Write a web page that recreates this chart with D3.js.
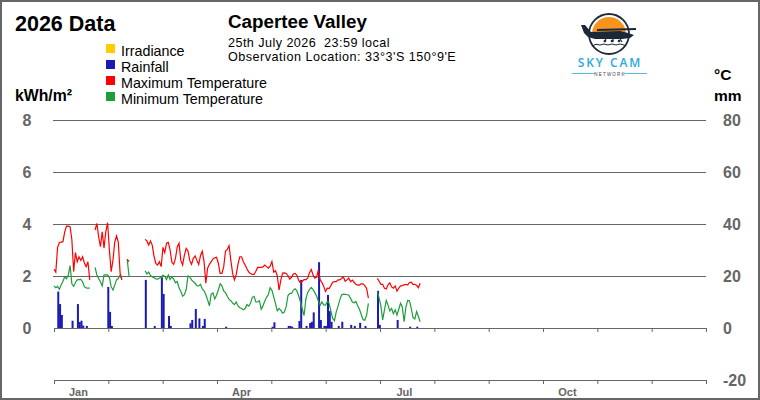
<!DOCTYPE html>
<html>
<head>
<meta charset="utf-8">
<script src="https://cdn.jsdelivr.net/npm/d3@7"></script>
<style>
  html, body { margin: 0; padding: 0; background: #fff; }
  svg { display: block; font-family: "Liberation Sans", Arial, sans-serif; }
</style>
</head>
<body>
<svg id="chart" width="760" height="400"></svg>
<script>
// daily values, index = day of year (0 = 1 Jan 2026), null = no record
const maxTemp = [
  22.6, 21.5, 31, 32.8, 33, 33.2, 37, 39.2, 39.2, 39, 34, 21.7, 29, 25.5, 27.4, 26, 27.4, 25, 23.6, 25.5, 18.5,
  null, null,
  37.7, 40.2, 35, 31.3, 37, 30.7, 37, 40.5, 30, 21.7, 26, 33, 35.4, 33, 21.1, 18.5,
  null, null,
  26.4, 25.5,
  null, null, null, null, null, null, null, null,
  34.1, 33.5, 31.9, 33.5, 31.9, 27.5, 24.8, 24.2, 25.5, 23.6,
  31, 29, 32.6, 32.9, 30, 25.3, 24.5, 26.8, 31.2, 32.6,
  26, 24.2, 28, 30.6, 29.6, 26, 24.5, 26.8, 27.7, 26,
  24.4, 27.8, 29.5, 25.5, 17.2, 23, 24.5, 25.5, 26.6, 27,
  27.2, 24.9, 21, 21, 23.5, 29.6, 30.2, 31.7, 26, 21,
  18.5, 20.5, 24.5, 27.4, 27.4, 25.5, 24.2, 22.8, 21.5, 21,
  20.6, 20.6, 21.8, 23.3, 23.3, 23.3, 23.5, 24.2, 23.6, 23,
  23.8, 25.6, 21.5, 22, 20, 14.6, 18.5, 21.1, 21.2, 21,
  20.1, 18.8, 19.6, 20.8, 21, 20.3, 18.3, 17.4, 18, 18.6,
  18.6, 19.2, 21.2, 22.5, 20.5, 19.2, 19.6, 22.3, 18.5, 17.5,
  16, 14, 15.3, 15.2, 16.3, 17.6, 17.8, 17.8, 18.5, 18.5,
  19.1, 19.6, 18, 18.5, 19.2, 17.8, 18.4, 17.6, 16.8, 16.5,
  16.5, 17, 17, 16.3, 15.2, 11.5,
  null, null, null, null,
  19.1, 18, 16.8, 16.8, 15.3, 15, 16.6, 17.4, 15.8, 15.3,
  16.2, 14.2, 15.3, 16.2, 16.3, 16.6, 16.8, 16.5, 17.5, 17.6,
  16.8, 16.8, 16.4, 15.5, 17.2
];

const minTemp = [
  16.2, 15.5, 16, 14.9, 16.5, 18, 19.7, 19, 20.4, 24, 17, 16, 17.5, 18.5, 18.6, 18.7, 17.8, 15.9, 15.4, 15.3, 15.3,
  null, null,
  23.3, 20.4, 19, 17.8, 16.2, 20.4, 20.4, 20.4, 19.5, 15.9, 14.6, 16.5, 18.5, 19, 20.4, 18.7,
  null, null,
  26.4, 20,
  null, null, null, null, null, null, null, null,
  22, 20.8, 21.5, 20.2, 19.6, 19.4, 18.9, 18.8, 19.1, 19.6,
  20.3, 19.8, 18.6, 20.4, 18.7, 19.7, 18.8, 17.4, 17.9, 15.5,
  14, 12.2, 12.8, 14.8, 20, 19.6, 18.5, 17.8, 17.2, 16.3,
  16.2, 16.8, 15, 14.3, 12.8, 10.8, 8.5, 13, 13.5, 11.2,
  12.6, 14.6, 17, 16.2, 14.3, 13.6, 12.2, 11, 10.5, 9.6,
  9, 10, 8.5, 7.8, 7.5, 7, 7.5, 9, 8.4, 9.5,
  11.8, 12.2, 10, 10, 10.5, 7.2, 8.5, 10.4, 11.8, 12.9,
  15.5, 14.5, 12, 9.5, 6.6, 7.5, 6.8, 5.7, 6.2, 8.3,
  12.5, 13.3, 13.3, 14.6, 15.1, 14.2, 12.3, 10, 7.2, 4.8,
  11.2, 13.6, 14.8, 15.6, 14.8, 13.6, 12.3, 10.3, 8.8, 10,
  8.9, 8.8, 10.1, 9.6, 6.5, 3.7, 2.8, 6.2, 8.3, 10.8,
  12.7, 13, 12.9, 12.8, 12.7, 11.4, 10, 9.7, 10.2, 8.6,
  7.2, 5.2, 3.2, 3, 5, 9.5,
  null, null, null, null,
  14, 11.5, 8.5, 3.1, 7, 10.6, 8.8, 6.6, 7.5, 5.5,
  7, 5, 7.2, 9.5, 8, 2.4, 8, 10.6, 10.5, 7.5,
  4, 3.5, 6.3, 4.4, 2.4
];

const rainDays = [2, 3, 4, 10, 13, 14, 15, 16, 18, 30, 31, 32, 51, 56, 60, 61, 64, 65, 76, 77, 79, 81, 83, 84, 96,
  122, 123, 131, 132, 133, 137, 138, 141, 143, 144, 145, 148, 149, 151, 152, 153, 154, 155, 159, 161, 166, 168, 171, 174,
  181, 182, 192, 199, 203];
const rainMm = [14, 9.2, 5, 2.8, 9.2, 2.3, 2.8, 0.9, 0.8, 15.8, 6.2, 0.8, 18.5, 0.8, 19.5, 13.1, 4.6, 0.8, 1.8, 3.1, 7.3, 3.7, 0.8, 3.5, 0.5,
  0.5, 2.2, 0.8, 0.8, 0.5, 2.7, 18.5, 0.8, 1.9, 2.4, 6, 25.3, 3.1, 0.8, 0.8, 12.7, 6.5, 2.4, 0.8, 2.4, 1.2, 0.8, 2, 0.8,
  14.3, 1.2, 3.1, 0.5, 0.5];

const irradiance = []; // no irradiance recorded this year

const monthLabels = ["Jan", "", "", "Apr", "", "", "Jul", "", "", "Oct", "", ""];
const leftTicks = [0, 2, 4, 6, 8];
const rightTicks = [80, 60, 40, 20, 0, -20];
const legendItems = [
  { label: "Irradiance", color: "#ffcc00" },
  { label: "Rainfall", color: "#1a1ab4" },
  { label: "Maximum Temperature", color: "#ff0000" },
  { label: "Minimum Temperature", color: "#1c9e3a" }
];

const svg = d3.select("#chart");
const gray = "#666";

svg.append("rect").attr("x", 1).attr("y", 1).attr("width", 758).attr("height", 398)
  .attr("fill", "#fff").attr("stroke", "#666").attr("stroke-width", 2);

const xDay = d3.scaleLinear().domain([0, 365]).range([54, 706]);
const xMonth = d3.scaleLinear().domain([0, 12]).range([54, 706]);
const yL = d3.scaleLinear().domain([-2, 8]).range([380, 120]);
const yR = d3.scaleLinear().domain([-20, 80]).range([380, 120]);

// grid
svg.append("g").selectAll("line").data([20, 40, 60, 80]).join("line")
  .attr("x1", 53).attr("x2", 706)
  .attr("y1", (d) => Math.round(yR(d)) + 0.5).attr("y2", (d) => Math.round(yR(d)) + 0.5)
  .attr("stroke", gray).attr("stroke-width", 1);

// zero line and bottom line, both with month ticks
[0, -20].forEach((v) => {
  svg.append("g")
    .attr("transform", `translate(0,${Math.round(yR(v))})`)
    .call(d3.axisBottom(xMonth).tickValues(d3.range(0, 13)).tickSize(4).tickSizeOuter(0).tickFormat(""))
    .call((axis) => axis.selectAll("path,line").attr("stroke", gray));
});

svg.append("g").selectAll("text").data(monthLabels).join("text")
  .attr("x", (d, i) => xMonth(i + 0.45))
  .attr("y", 396)
  .attr("text-anchor", "middle")
  .attr("fill", gray).attr("font-size", 11).attr("font-weight", "bold")
  .text((d) => d);

svg.append("g").selectAll("text").data(leftTicks).join("text")
  .attr("x", 27).attr("y", (d) => yL(d)).attr("dy", "0.36em")
  .attr("text-anchor", "middle")
  .attr("fill", gray).attr("font-size", 16).attr("font-weight", "bold")
  .text((d) => d);

svg.append("g").selectAll("text").data(rightTicks).join("text")
  .attr("x", 723).attr("y", (d) => yR(d)).attr("dy", "0.36em")
  .attr("fill", gray).attr("font-size", 16).attr("font-weight", "bold")
  .text((d) => d);

// rainfall bars
const rain = rainDays.map((d, i) => ({ day: d, mm: rainMm[i] }));
svg.append("g").selectAll("rect").data(rain).join("rect")
  .attr("x", (d) => xDay(d.day) - 0.3)
  .attr("width", 2)
  .attr("y", (d) => yR(d.mm))
  .attr("height", (d) => yR(0) - yR(d.mm))
  .attr("fill", legendItems[1].color);

// temperature lines
const line = d3.line()
  .defined((d) => d != null)
  .x((d, i) => xDay(i))
  .y((d) => yR(d));

svg.append("path").attr("d", line(minTemp))
  .attr("fill", "none").attr("stroke", legendItems[3].color).attr("stroke-width", 1.2);
svg.append("path").attr("d", line(maxTemp))
  .attr("fill", "none").attr("stroke", legendItems[2].color).attr("stroke-width", 1.2);

// irradiance (kWh/m², left axis) - empty series
svg.append("path").attr("d", d3.line().x((d) => xDay(d.day)).y((d) => yL(d.value))(irradiance) || "")
  .attr("fill", "none").attr("stroke", legendItems[0].color).attr("stroke-width", 1.2);

// titles
svg.append("text").attr("x", 15).attr("y", 31).attr("font-size", 21.5).attr("font-weight", "bold").text("2026 Data");
svg.append("text").attr("x", 228).attr("y", 28).attr("font-size", 18.8).attr("font-weight", "bold").text("Capertee Valley");
svg.append("text").attr("x", 228).attr("y", 46.5).attr("font-size", 12.6).attr("letter-spacing", 0.45)
  .attr("xml:space", "preserve").text("25th July 2026  23:59 local");
svg.append("text").attr("x", 228).attr("y", 61).attr("font-size", 12.6).attr("letter-spacing", 0.5)
  .text("Observation Location: 33°3'S 150°9'E");

svg.append("text").attr("x", 15).attr("y", 101).attr("font-size", 15.8).attr("font-weight", "bold").text("kWh/m²");
svg.append("text").attr("x", 714).attr("y", 80).attr("font-size", 15.5).attr("font-weight", "bold").text("°C");
svg.append("text").attr("x", 714).attr("y", 101).attr("font-size", 15.5).attr("font-weight", "bold").text("mm");

// legend
const legend = svg.append("g").selectAll("g").data(legendItems).join("g")
  .attr("transform", (d, i) => `translate(106,${44 + i * 16})`);
legend.append("rect").attr("width", 9).attr("height", 9).attr("fill", (d) => d.color);
legend.append("text").attr("x", 15).attr("y", 12).attr("font-size", 14.3).text((d) => d.label);

// logo
const logo = svg.append("g");
logo.append("circle").attr("cx", 609).attr("cy", 34).attr("r", 20)
  .attr("fill", "#fff").attr("stroke", "#1d2b3b").attr("stroke-width", 1.8);
logo.append("path").attr("d", "M592,34 A17,17 0 0 1 626,34 Z").attr("fill", "#f7941d");
logo.append("path")
  .attr("d", "M581,25 L585,25 L591,32 L620,31 L628,33 L634,35 L630,38 L622,39 L595,39 L588,37 L584,33 Z")
  .attr("fill", "#1b2838");
logo.append("path").attr("d", "M597,29 L636,28 L636,30 L597,31 Z").attr("fill", "#1b2838");
logo.append("path").attr("d", "M606,39 L604,42 M613,39 L613,42 M620,39 L622,42")
  .attr("stroke", "#1b2838").attr("stroke-width", 1.2);
[605, 612, 619].forEach((cx) => logo.append("circle").attr("cx", cx).attr("cy", 41).attr("r", 1.3).attr("fill", "#1b2838"));
logo.append("path")
  .attr("d", "M592,46 Q596,43 600,45 Q604,43 608,45 Q612,43 616,45 Q620,43 624,45 L626,46")
  .attr("fill", "none").attr("stroke", "#1b2838").attr("stroke-width", 1);
logo.append("text").attr("x", 610).attr("y", 67).attr("text-anchor", "middle")
  .attr("font-family", "'Open Sans', sans-serif").attr("font-weight", 600).attr("font-size", 12).attr("letter-spacing", 1.9)
  .attr("fill", "#29a9e0").text("SKY CAM");
logo.append("text").attr("x", 610).attr("y", 75.5).attr("text-anchor", "middle")
  .attr("font-size", 4.5).attr("letter-spacing", 1.2).attr("fill", "#444").text("NETWORK");
logo.append("path").attr("d", "M572,73.5 L596,73.5 M624,73.5 L647,73.5")
  .attr("stroke", "#29a9e0").attr("stroke-width", 0.8);
</script>
</body>
</html>
